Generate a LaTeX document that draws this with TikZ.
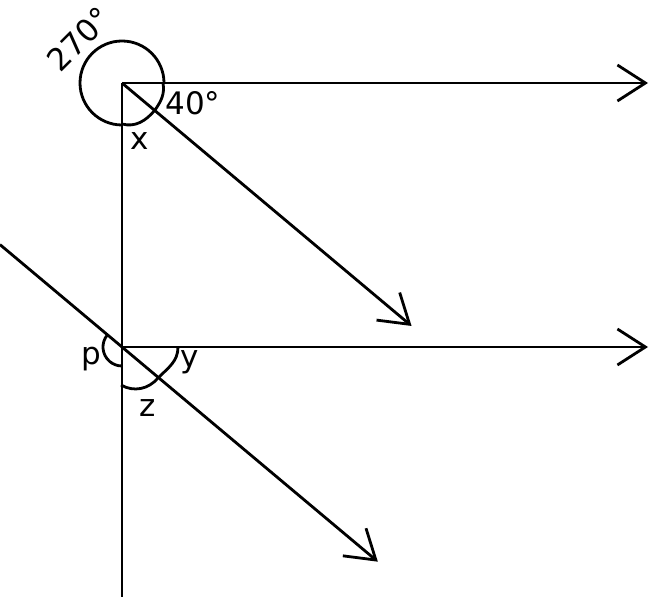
\documentclass[tikz,border=0pt]{standalone}
\usepackage{fontspec}
\setmainfont{DejaVu Sans}
\usetikzlibrary{arrows.meta,calc}
\begin{document}
\begin{tikzpicture}[x=1pt,y=1pt,line width=2.8pt,
  arr/.style={-{Straight Barb[length=28pt,width=36pt]}},
  lbl/.style={font=\fontsize{31}{34}\selectfont,inner sep=0pt}]
\useasboundingbox (0,0) rectangle (658,597);
% vertices and end points
\coordinate (O1) at (122,514);
\coordinate (A1) at (648,514);
\coordinate (D1) at ($(O1)+(-40:378)$);
\coordinate (V) at (122,0);
\coordinate (O2) at (122,250);
\coordinate (A2) at (648,250);
\coordinate (S) at ($(O2)+(140:159.3)$);
\coordinate (D2) at ($(O2)+(-40:334)$);
% lines
\draw (O1) -- (V);
\draw[arr] (O1) -- (A1);
\draw[arr] (O1) -- (D1);
\draw[arr] (O2) -- (A2);
\draw[arr] (S) -- (D2);
% angle arcs at upper vertex
\draw ($(O1)+(42,0)$) arc[start angle=0,end angle=270,radius=42];
\coordinate (xa) at (122,473);
\coordinate (xb) at (155,487);
\coordinate (fa) at (163,514);
\draw (xa) to[out=-15,in=230] (xb);
\draw (fa) to[out=-80,in=55] (xb);
% angle arcs at lower vertex
\draw ($(O2)+(140:19)$) arc[start angle=140,end angle=270,radius=19];
\coordinate (ya) at (178,250);
\coordinate (yb) at (158,219);
\coordinate (za) at (121,212);
\draw (ya) to[out=-90,in=45] (yb);
\draw (yb) to[out=230,in=-30] (za);
% labels
\node[lbl,rotate=45] (l270) at (79,558) {270°};
\node[lbl] (l40) at (193,494) {40°};
\node[lbl] (lx) at (139.5,455.5) {x};
\node[lbl] (lp) at (91,237.5) {p};
\node[lbl] (ly) at (190,235) {y};
\node[lbl] (lz) at (148,189) {z};
\end{tikzpicture}
\end{document}
